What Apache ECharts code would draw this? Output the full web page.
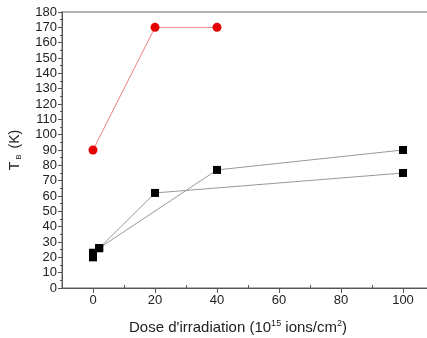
<!DOCTYPE html>
<html><head><meta charset="utf-8">
<script src="https://cdn.jsdelivr.net/npm/echarts@6/dist/echarts.min.js"></script>
<style>html,body{margin:0;padding:0;background:#fff}#c{width:427px;height:338px}</style>
</head><body><div id="c"></div>
<script>
const redX = [0, 20, 40];
const redY = [90, 170, 170];
const blackAX = [0, 2, 20, 100];
const blackAY = [23, 26, 62, 75];
const blackBX = [0, 2, 40, 100];
const blackBY = [20, 26, 77, 90];
const xTicks = [0, 20, 40, 60, 80, 100];
const xMinorTicks = [10, 30, 50, 70, 90];

const zip = (xs, ys) => xs.map((x, i) => [x, ys[i]]);
const chart = echarts.init(document.getElementById('c'));
const font = 'Liberation Sans, Arial, sans-serif';
chart.setOption({
  animation: false,
  backgroundColor: '#fff',
  grid: {left: 62, right: -7, top: 12, bottom: 50, show: true, borderColor: '#999', borderWidth: 1.5,
    containLabel: false, outerBoundsMode: 'none'},
  xAxis: [{
    type: 'value', min: -10, max: 110, interval: 10,
    axisLine: {onZero: false, lineStyle: {color: '#555', width: 1}},
    axisTick: {show: true, length: 5, customValues: xTicks, lineStyle: {color: '#555'}},
    splitLine: {show: false},
    axisLabel: {color: '#222', fontFamily: font, fontSize: 13, margin: 6, customValues: xTicks},
    name: "Dose d'irradiation (10{sup|15} ions/cm{sup|2})",
    nameLocation: 'middle', nameGap: 31,
    nameTextStyle: {color: '#222', fontFamily: font, fontSize: 15, padding: [0, 20, 0, 0],
      rich: {sup: {fontSize: 9, verticalAlign: 'top', padding: [0, 0, 8, 0], fontFamily: font, color: '#222'}}}
  }, {
    type: 'value', min: -10, max: 110, interval: 10, position: 'bottom',
    axisLine: {show: false, onZero: false},
    axisTick: {show: true, inside: true, length: 3, customValues: xMinorTicks, lineStyle: {color: '#555'}},
    axisLabel: {show: false},
    splitLine: {show: false}
  }],
  yAxis: {
    type: 'value', min: 0, max: 180, interval: 10,
    axisLine: {show: true, onZero: false, lineStyle: {color: '#555', width: 1}},
    axisTick: {show: true, length: 4, lineStyle: {color: '#555'}},
    minorTick: {show: true, splitNumber: 2, length: 2, lineStyle: {color: '#555'}},
    splitLine: {show: false},
    axisLabel: {color: '#222', fontFamily: font, fontSize: 13, margin: 5},
    name: 'T{sub|B} (K)',
    nameLocation: 'middle', nameGap: 39,
    nameTextStyle: {color: '#222', fontFamily: font, fontSize: 14,
      rich: {sub: {fontSize: 8, verticalAlign: 'bottom', padding: [7, 2, 0, 2], fontFamily: font, color: '#222'}}}
  },
  series: [
    {type: 'line', data: zip(redX, redY), symbol: 'circle', symbolSize: 9,
      itemStyle: {color: '#e60000'}, lineStyle: {color: '#f08080', width: 1}, z: 3},
    {type: 'line', data: zip(blackAX, blackAY), symbol: 'rect', symbolSize: 8,
      itemStyle: {color: '#000'}, lineStyle: {color: '#999', width: 1}},
    {type: 'line', data: zip(blackBX, blackBY), symbol: 'rect', symbolSize: 8,
      itemStyle: {color: '#000'}, lineStyle: {color: '#999', width: 1}}
  ]
});
</script></body></html>
